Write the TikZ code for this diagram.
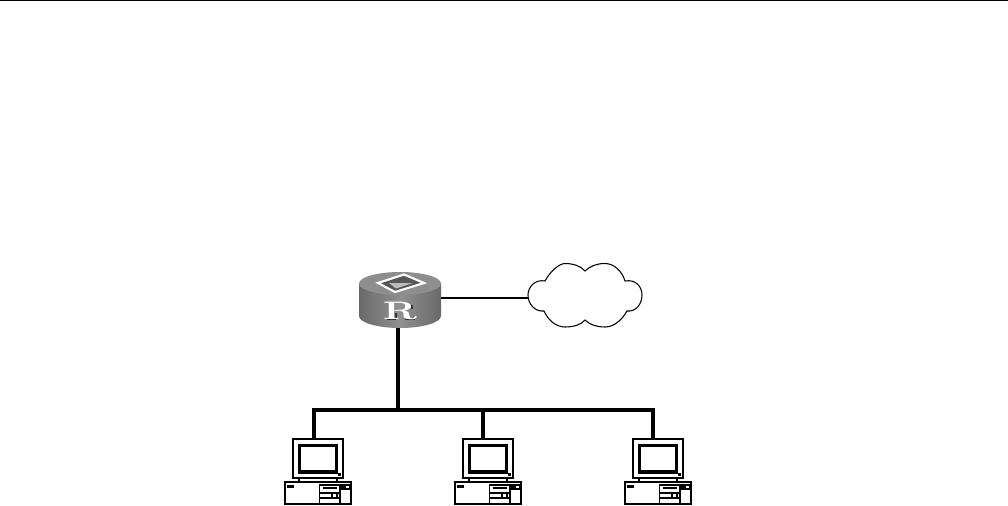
\documentclass[tikz,border=0pt]{standalone}
\usepackage{xcolor}
\usetikzlibrary{calc,positioning}
\definecolor{routertop}{HTML}{8E8E8E}
\definecolor{routerside}{HTML}{7C7C7C}

\begin{document}
\begin{tikzpicture}[
    x=0.01cm, y=-0.01cm,
    link/.style={line width=0.3pt},
    bus/.style={line width=0.95pt},
    monitor/.style={rectangle, draw, fill=white, line width=0.5pt, outer sep=0pt, minimum width=0.5cm, minimum height=0.39cm, inner sep=0pt},
    tower/.style={rectangle, draw, fill=white, line width=0.7pt, outer sep=0pt, minimum width=0.66cm, minimum height=0.22cm, inner sep=0pt},
    router/.style={rectangle, minimum width=0.82cm, minimum height=0.56cm, inner sep=0pt},
    cloud/.style={rectangle, minimum width=1.14cm, minimum height=0.64cm, inner sep=0pt},
]
    \useasboundingbox (0,0) rectangle (1008,506);
    \draw[line width=0.5pt] (0,0.6) -- (1008,0.6);

    % router
    \node[router] (gateway) at (400,300) {};
    \shade[left color=routerside!85!black, right color=routerside!85!black, middle color=routerside!85!white]
        (359,283.5) -- (359,316) arc[start angle=180, end angle=0, x radius=41, y radius=12] -- (441,283.5) -- cycle;
    \fill[routertop] (400,283.5) ellipse[x radius=41, y radius=11.5];
    \draw[white, line width=0.6pt, fill=routerside!70!black] (378,283) -- (404,274.5) -- (424,283) -- (395,292) -- cycle;
    \fill[routertop!60!white] (389,283) -- (413,283) -- (396,288.5) -- cycle;
    % shadow under the letter
    \draw[black!80, line width=0.35pt] (387,319.5) -- (396,319.5) (405,319.5) -- (415,319.5) (396,313) -- (396,319) (412,305) -- (412,309);
    \node[font=\bfseries, text=white, xscale=1.55, scale=0.72, inner sep=0pt] (routerlabel) at (400,311) {R};

    % cloud
    \node[cloud] (internet) at (585,295) {};
    \draw[link, fill=white] (545,281) .. controls (551,270) and (560,263.5) .. (565,263.5)
        .. controls (573,263.5) and (581,266) .. (585,271)
        .. controls (590,266) and (597,263.5) .. (605,263.5)
        .. controls (614,263.5) and (622,271) .. (625,281)
        .. controls (636,279) and (642,287) .. (642,295)
        .. controls (642,304) and (636,312) .. (627,311)
        .. controls (622,320) and (614,327) .. (605,327)
        .. controls (597,327) and (590,325) .. (585,320)
        .. controls (581,325) and (573,327) .. (565,327)
        .. controls (556,327) and (548,320) .. (544,311)
        .. controls (535,312) and (528,304) .. (528,295)
        .. controls (528,287) and (535,279) .. (545,281) -- cycle;

    \coordinate (gatewayport) at (441,298);
    \coordinate (internetport) at (528,298);
    \draw[link] (gatewayport) -- (internetport);

    % segment
    \coordinate (gatewaydrop) at (398,328);
    \coordinate (segjoin) at (398,410);
    \coordinate (segleft) at (314,410);
    \coordinate (segmid) at (483,410);
    \coordinate (segright) at (653,410);
    \draw[bus] (gatewaydrop) -- (segjoin);
    \draw[bus, line cap=rect] (segleft) -- (segright);

    \foreach \hostname/\hostx/\hosttap in {hosta/0/segleft, hostb/170/segmid, hostc/340/segright} {
        \node[monitor] (\hostname) at (318+\hostx,458.5) {};
        \node[tower, below=0.04cm of \hostname] (\hostname base) {};
        \draw[bus] (\hosttap) -- (\hosttap |- \hostname.north);
        \begin{scope}[shift={(\hostx,0)}]
            \draw[line width=0.3pt, fill=white] (299,478) rectangle (337,482);
            \draw[line width=1.05pt] (299.5,445.5) rectangle (336.5,472);
            \fill (338,473) rectangle (341,476);
            \fill (287,485) rectangle (294,487.5);
            \draw[line width=0.35pt] (319.5,485) rectangle (340,504);
            \draw[line width=0.3pt] (319.5,493) -- (340,493) (319.5,498) -- (340,498) (332,493) -- (332,498) (337,493) -- (337,498);
            \fill (323,487) rectangle (337,489);
            \draw[line width=0.3pt] (342,485) rectangle (350,489);
            \fill (342,485) rectangle (346,489);
        \end{scope}
    }
\end{tikzpicture}
\end{document}
